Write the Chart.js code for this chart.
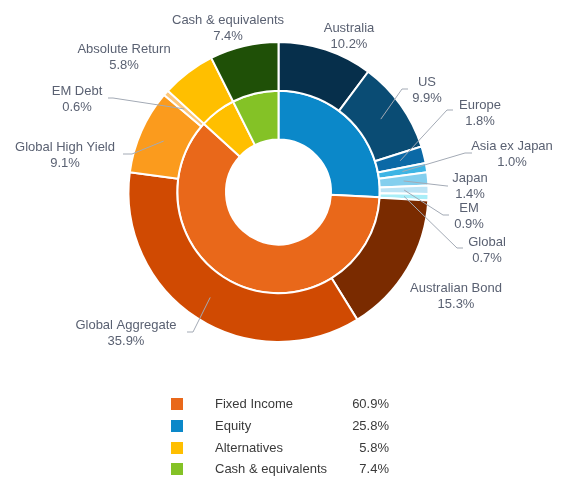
<!DOCTYPE html>
<html>
<head>
<meta charset="utf-8">
<script src="https://cdn.jsdelivr.net/npm/chart.js@4/dist/chart.umd.min.js"></script>
<style>
  html, body { margin: 0; padding: 0; background: #fff; }
  #wrap { position: relative; width: 563px; height: 477px; }
  canvas { position: absolute; left: 0; top: 0; }
  .lg { position: absolute; font-family: "Liberation Sans", Arial, sans-serif; font-size: 13px; color: #3a3a3a; }
  .sw { position: absolute; width: 12px; height: 12px; }
</style>
</head>
<body>
<div id="wrap">
  <canvas id="c" width="563" height="477"></canvas>
  <div id="legend"></div>
</div>
<script>
// ---- data ----
const outerLabels = ["Australia", "US", "Europe", "Asia ex Japan", "Japan", "EM", "Global",
  "Australian Bond", "Global Aggregate", "Global High Yield", "EM Debt", "Absolute Return", "Cash & equivalents"];
const outerValues = [10.2, 9.9, 1.8, 1.0, 1.4, 0.9, 0.7, 15.3, 35.9, 9.1, 0.6, 5.8, 7.4];
const innerLabels = ["Equity", "Fixed Income", "Alternatives", "Cash & equivalents"];
const innerValues = [25.8, 60.9, 5.8, 7.4];
const legendLabels = ["Fixed Income", "Equity", "Alternatives", "Cash & equivalents"];
const legendValues = [60.9, 25.8, 5.8, 7.4];

// ---- styles ----
const outerColors = ["#062f4b", "#0a4c74", "#0b69a6", "#3db4e4", "#84cfee", "#bde4f5", "#a9eef8",
  "#7a2b00", "#d04a02", "#fb9b1d", "#fdc77a", "#ffbf00", "#1f5007"];
const innerColors = ["#0b88c9", "#e9681a", "#ffbf00", "#84c226"];
const legendColors = ["#e9681a", "#0b88c9", "#ffbf00", "#84c226"];

// label layout: [textCenterX, firstLineY, elbowX, elbowY, endX] (null elbow => no leader line)
const labelLayout = [
  [349, 28, null],
  [427, 82, 402, 89, 408],
  [480, 105, 447, 110, 453],
  [512, 146, 465, 153, 472],
  [470, 178, 447, 186, 448],
  [469, 208, 443, 215, 449],
  [487, 242, 457, 248, 463],
  [456, 288, null],
  [126, 325, 193, 332, 187],
  [65, 147, 132, 154, 123],
  [77, 91, 113, 98, 108],
  [124, 49, null],
  [228, 20, null]
];

const labelPlugin = {
  id: 'outerLabels',
  afterDatasetsDraw(chart) {
    const ctx = chart.ctx;
    const meta = chart.getDatasetMeta(0);
    ctx.save();
    meta.data.forEach((arc, i) => {
      const L = labelLayout[i];
      if (L[2] !== null && L[2] !== undefined) {
        const mid = (arc.startAngle + arc.endAngle) / 2;
        const r = (arc.innerRadius + arc.outerRadius) / 2;
        const sx = arc.x + Math.cos(mid) * r;
        const sy = arc.y + Math.sin(mid) * r;
        ctx.beginPath();
        ctx.strokeStyle = '#a3aab5';
        ctx.lineWidth = 1;
        ctx.moveTo(sx, sy);
        ctx.lineTo(L[2], L[3]);
        ctx.lineTo(L[4], L[3]);
        ctx.stroke();
      }
      ctx.fillStyle = '#5a6172';
      ctx.font = '13px "Liberation Sans", Arial, sans-serif';
      ctx.textAlign = 'center';
      ctx.textBaseline = 'middle';
      ctx.fillText(outerLabels[i], L[0], L[1]);
      ctx.fillText(outerValues[i].toFixed(1) + '%', L[0], L[1] + 16);
    });
    ctx.restore();
  }
};

new Chart(document.getElementById('c'), {
  type: 'doughnut',
  data: {
    labels: outerLabels,
    datasets: [
      { data: outerValues, backgroundColor: outerColors, borderColor: '#ffffff', borderWidth: 2 },
      { data: innerValues, backgroundColor: innerColors, borderColor: '#ffffff', borderWidth: 2 }
    ]
  },
  options: {
    responsive: false,
    animation: false,
    cutout: '35%',
    layout: { padding: { left: 127, right: 133, top: 41, bottom: 134 } },
    plugins: { legend: { display: false }, tooltip: { enabled: false } }
  },
  plugins: [labelPlugin]
});

// ---- legend ----
const rowY = [404, 426, 448, 469];
const lg = document.getElementById('legend');
legendLabels.forEach((name, i) => {
  const sw = document.createElement('div');
  sw.className = 'sw';
  sw.style.left = '171px';
  sw.style.top = (rowY[i] - 6) + 'px';
  sw.style.background = legendColors[i];
  lg.appendChild(sw);
  const t = document.createElement('div');
  t.className = 'lg';
  t.style.left = '215px';
  t.style.top = (rowY[i] - 8) + 'px';
  t.textContent = name;
  lg.appendChild(t);
  const v = document.createElement('div');
  v.className = 'lg';
  v.style.right = (563 - 389) + 'px';
  v.style.top = (rowY[i] - 8) + 'px';
  v.style.textAlign = 'right';
  v.textContent = legendValues[i].toFixed(1) + '%';
  lg.appendChild(v);
});
</script>
</body>
</html>
